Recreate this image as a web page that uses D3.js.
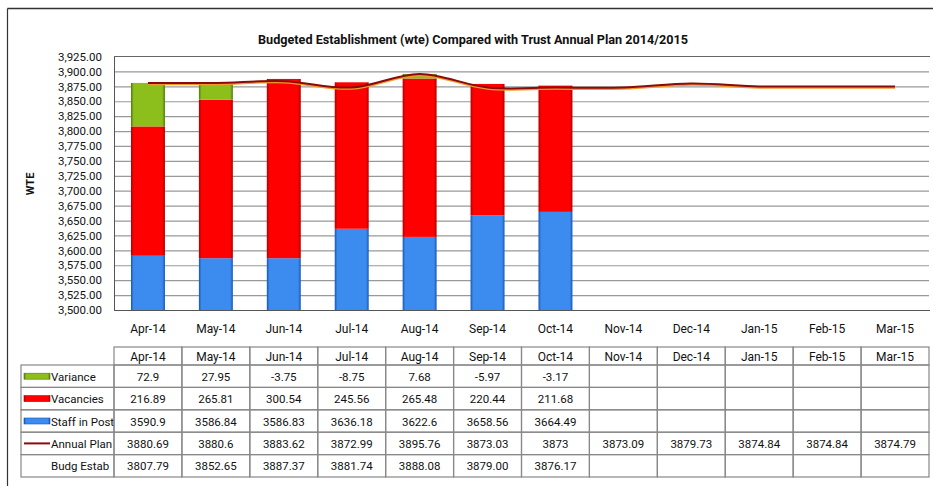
<!DOCTYPE html>
<html>
<head>
<meta charset="utf-8">
<script src="https://cdn.jsdelivr.net/npm/d3@7"></script>
<style>
  body { margin: 0; background: #fff; }
  svg text { font-family: Roboto, "Liberation Sans", Arial, sans-serif; fill: #111; }
  .yAxis .domain, .xAxis .domain { stroke: #555; }
  .grid line { stroke: #999; stroke-width: 1.2; }
  .grid .domain { display: none; }
</style>
</head>
<body>
<div id="chart"></div>
<script>
// chart values
let months = ["Apr-14","May-14","Jun-14","Jul-14","Aug-14","Sep-14","Oct-14","Nov-14","Dec-14","Jan-15","Feb-15","Mar-15"];
let variance = [72.9, 27.95, -3.75, -8.75, 7.68, -5.97, -3.17, null, null, null, null, null];
let vacancies = [216.89, 265.81, 300.54, 245.56, 265.48, 220.44, 211.68, null, null, null, null, null];
let staffInPost = [3590.9, 3586.84, 3586.83, 3636.18, 3622.6, 3658.56, 3664.49, null, null, null, null, null];
let annualPlan = [3880.69, 3880.6, 3883.62, 3872.99, 3895.76, 3873.03, 3873, 3873.09, 3879.73, 3874.84, 3874.84, 3874.79];
let budgEstab = ["3807.79","3852.65","3887.37","3881.74","3888.08","3879.00","3876.17","","","","",""];
let yTicks = d3.range(3500, 3925.01, 25);

let width = 933, height = 486;
let plotLeft = 114, plotRight = 929, plotTop = 56.5, plotBottom = 310;

let svg = d3.select("#chart").append("svg")
  .attr("width", width)
  .attr("height", height);

// frame
svg.append("line").attr("x1", 7.5).attr("x2", width).attr("y1", 8.5).attr("y2", 8.5)
  .attr("stroke", "#333").attr("stroke-width", 1.5);
svg.append("line").attr("x1", 7.5).attr("x2", 7.5).attr("y1", 8.5).attr("y2", height)
  .attr("stroke", "#333").attr("stroke-width", 1.2);

let x = d3.scaleBand()
  .domain(months)
  .range([plotLeft, plotRight])
  .paddingInner(0.5)
  .paddingOuter(0.25);

let y = d3.scaleLinear()
  .domain([3500, 3925])
  .range([plotBottom, plotTop]);

// gridlines
svg.append("g")
  .attr("class", "grid")
  .attr("transform", "translate(" + plotLeft + ",0)")
  .call(d3.axisLeft(y).tickValues(yTicks.slice(1, -1)).tickSize(-(plotRight - plotLeft)).tickFormat(""));

svg.append("line")
  .attr("x1", plotLeft).attr("x2", plotRight + 1)
  .attr("y1", y(3925)).attr("y2", y(3925))
  .attr("stroke", "#666");

// bar gradients
let defs = svg.append("defs");
let shades = {
  green: ["#4f7a0c", "#8cbf1c"],
  red: ["#b00000", "#ff0000"],
  blue: ["#1656b8", "#3c8cf0"]
};
Object.keys(shades).forEach(k => {
  let g = defs.append("linearGradient").attr("id", "grad-" + k)
    .attr("x1", "0%").attr("x2", "100%").attr("y1", "0%").attr("y2", "0%");
  g.append("stop").attr("offset", "0%").attr("stop-color", shades[k][0]);
  g.append("stop").attr("offset", "8%").attr("stop-color", shades[k][1]);
  g.append("stop").attr("offset", "92%").attr("stop-color", shades[k][1]);
  g.append("stop").attr("offset", "100%").attr("stop-color", shades[k][0]);
});
defs.append("clipPath").attr("id", "plot-clip")
  .append("rect")
  .attr("x", plotLeft).attr("y", plotTop - 5)
  .attr("width", plotRight - plotLeft).attr("height", plotBottom - plotTop + 5);

let rows = months.map((m, i) => ({
  month: m,
  staff: staffInPost[i] || 0,
  vacancies: vacancies[i] || 0,
  variance: variance[i] || 0
}));

let stack = d3.stack()
  .keys(["staff", "vacancies", "variance"])
  .offset(d3.stackOffsetDiverging);

let colorOf = { staff: "url(#grad-blue)", vacancies: "url(#grad-red)", variance: "url(#grad-green)" };

svg.append("g")
  .attr("clip-path", "url(#plot-clip)")
  .selectAll("g")
  .data(stack(rows))
  .enter()
  .append("g")
  .attr("fill", d => colorOf[d.key])
  .selectAll("rect")
  .data(d => d.filter(p => p[1] - p[0] > 0))
  .enter()
  .append("rect")
  .attr("x", d => x(d.data.month))
  .attr("y", d => y(d[1]))
  .attr("width", x.bandwidth())
  .attr("height", d => Math.max(0, y(d[0]) - y(d[1])));

// annual plan line
let planLine = d3.line()
  .x((d, i) => x(months[i]) + x.bandwidth() / 2)
  .y(d => y(d))
  .curve(d3.curveCatmullRom.alpha(0.5));

svg.append("path")
  .datum(annualPlan)
  .attr("d", planLine)
  .attr("transform", "translate(0,1)")
  .attr("fill", "none")
  .attr("stroke", "#f09a2a")
  .attr("stroke-width", 2.5);

svg.append("path")
  .datum(annualPlan)
  .attr("d", planLine)
  .attr("fill", "none")
  .attr("stroke", "#8b0a0a")
  .attr("stroke-width", 2);

// axes
let yAxis = svg.append("g")
  .attr("class", "yAxis")
  .attr("transform", "translate(" + plotLeft + ",0)")
  .call(d3.axisLeft(y).tickValues(yTicks).tickSize(0).tickPadding(12).tickFormat(d3.format(",.2f")));
yAxis.selectAll("text").style("font-size", "11.5px");

let xAxis = svg.append("g")
  .attr("class", "xAxis")
  .attr("transform", "translate(0," + plotBottom + ")")
  .call(d3.axisBottom(x).tickSize(0).tickPadding(14));
xAxis.selectAll("text").style("font-size", "12px");
xAxis.select(".domain").attr("d", "M" + plotLeft + ",0.5H" + (plotRight + 1));

// titles
svg.append("text")
  .attr("x", 473)
  .attr("y", 44)
  .attr("text-anchor", "middle")
  .attr("textLength", 430)
  .attr("lengthAdjust", "spacingAndGlyphs")
  .style("font-size", "13px")
  .style("font-weight", "bold")
  .text("Budgeted Establishment (wte) Compared with Trust Annual Plan 2014/2015");

svg.append("text")
  .attr("transform", "translate(34,184) rotate(-90)")
  .attr("text-anchor", "middle")
  .style("font-size", "11px")
  .style("font-weight", "bold")
  .text("WTE");

// data table
let step = x.step();
let colLeft = m => x(m) + x.bandwidth() / 2 - step / 2;
let headerTop = 347, headerBottom = 365, rowH = 22.4;
let legendLeft = 21;

let tableRows = [
  { name: "Variance", values: variance, swatch: "green" },
  { name: "Vacancies", values: vacancies, swatch: "red" },
  { name: "Staff in Post", values: staffInPost, swatch: "blue" },
  { name: "Annual Plan", values: annualPlan, swatch: "line" },
  { name: "Budg Estab", values: budgEstab, swatch: "none" }
];

let table = svg.append("g").attr("class", "table");
let lineStyle = sel => sel.attr("stroke", "#888").attr("stroke-width", 1.2).attr("fill", "none");

// header row
months.forEach(m => {
  table.append("rect")
    .attr("x", colLeft(m)).attr("y", headerTop)
    .attr("width", step).attr("height", headerBottom - headerTop)
    .call(lineStyle);
  table.append("text")
    .attr("x", colLeft(m) + step / 2)
    .attr("y", headerTop + 13.5)
    .attr("text-anchor", "middle")
    .style("font-size", "12px")
    .text(m);
});

tableRows.forEach((r, ri) => {
  let top = headerBottom + ri * rowH;
  table.append("rect")
    .attr("x", legendLeft).attr("y", top)
    .attr("width", plotLeft - legendLeft).attr("height", rowH)
    .call(lineStyle);
  if (r.swatch === "line") {
    table.append("line")
      .attr("x1", 24).attr("x2", 50)
      .attr("y1", top + rowH / 2).attr("y2", top + rowH / 2)
      .attr("stroke", "#8b0a0a").attr("stroke-width", 2);
  } else if (r.swatch !== "none") {
    table.append("rect")
      .attr("x", 24).attr("y", top + rowH / 2 - 3)
      .attr("width", 26).attr("height", 6)
      .attr("fill", "url(#grad-" + r.swatch + ")")
      .attr("stroke", shades[r.swatch][0]).attr("stroke-width", 0.6);
  }
  table.append("text")
    .attr("x", 51)
    .attr("y", top + rowH / 2 + 4.5)
    .style("font-size", "11.5px")
    .text(r.name);
  months.forEach((m, i) => {
    table.append("rect")
      .attr("x", colLeft(m)).attr("y", top)
      .attr("width", step).attr("height", rowH)
      .call(lineStyle);
    let v = r.values[i];
    if (v !== null && v !== "") {
      table.append("text")
        .attr("x", colLeft(m) + step / 2)
        .attr("y", top + rowH / 2 + 4.5)
        .attr("text-anchor", "middle")
        .style("font-size", "11.5px")
        .text(v);
    }
  });
});
</script>
</body>
</html>
